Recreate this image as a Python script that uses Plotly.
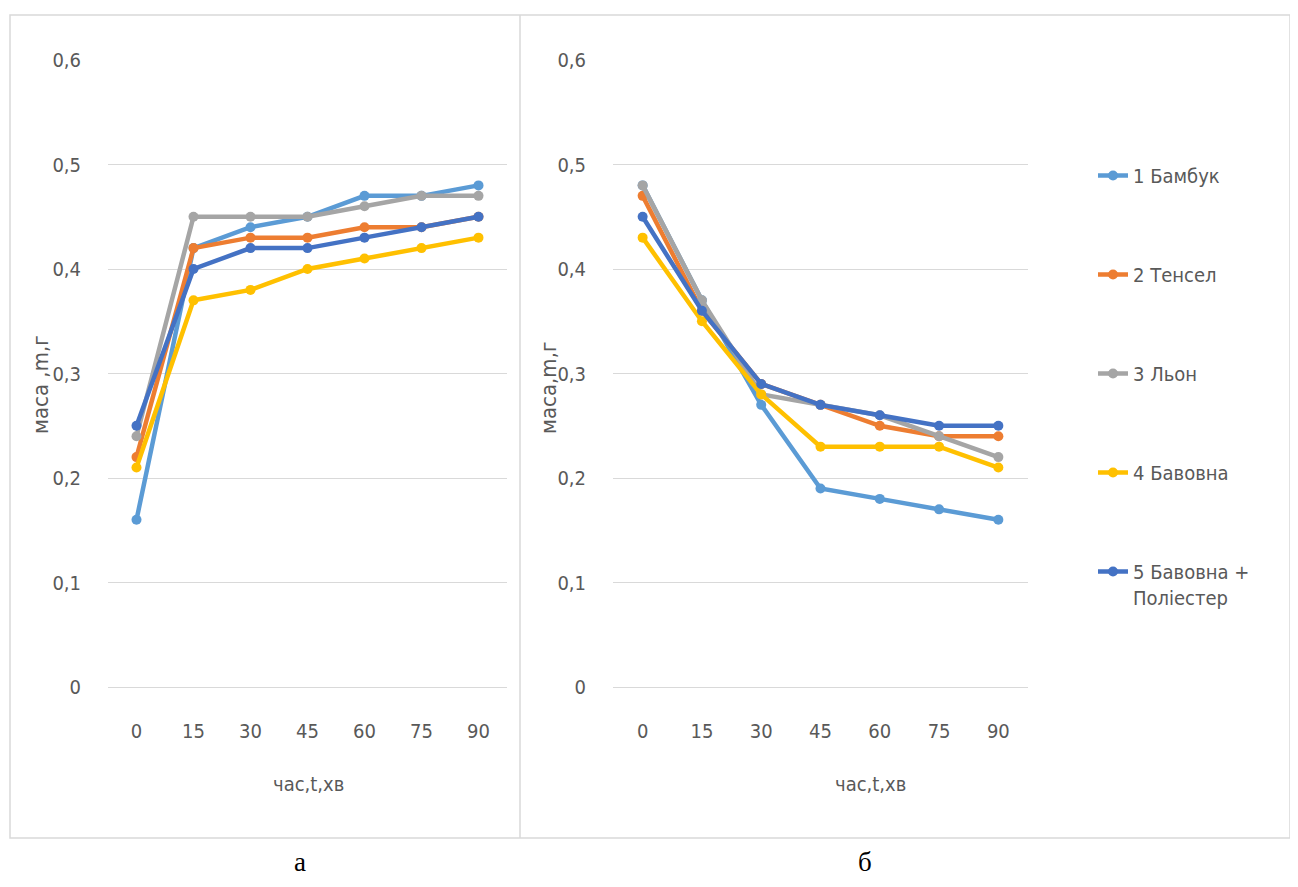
import plotly.graph_objects as go

W, H = 1298, 887

times = ["0", "15", "30", "45", "60", "75", "90"]
y_ticks = [0, 0.1, 0.2, 0.3, 0.4, 0.5, 0.6]
y_tick_labels = ["0", "0,1", "0,2", "0,3", "0,4", "0,5", "0,6"]

series_names = ["1 Бамбук", "2 Тенсел", "3 Льон", "4 Бавовна", "5 Бавовна +<br>Поліестер"]
colors = ["#5B9BD5", "#ED7D31", "#A5A5A5", "#FFC000", "#4472C4"]

# chart а (left): sorption
a_bamboo = [0.16, 0.42, 0.44, 0.45, 0.47, 0.47, 0.48]
a_tencel = [0.22, 0.42, 0.43, 0.43, 0.44, 0.44, 0.45]
a_linen = [0.24, 0.45, 0.45, 0.45, 0.46, 0.47, 0.47]
a_cotton = [0.21, 0.37, 0.38, 0.40, 0.41, 0.42, 0.43]
a_cotpoly = [0.25, 0.40, 0.42, 0.42, 0.43, 0.44, 0.45]

# chart б (right): drying
b_bamboo = [0.48, 0.37, 0.27, 0.19, 0.18, 0.17, 0.16]
b_tencel = [0.47, 0.36, 0.29, 0.27, 0.25, 0.24, 0.24]
b_linen = [0.48, 0.37, 0.28, 0.27, 0.26, 0.24, 0.22]
b_cotton = [0.43, 0.35, 0.28, 0.23, 0.23, 0.23, 0.21]
b_cotpoly = [0.45, 0.36, 0.29, 0.27, 0.26, 0.25, 0.25]

a_data = [a_bamboo, a_tencel, a_linen, a_cotton, a_cotpoly]
b_data = [b_bamboo, b_tencel, b_linen, b_cotton, b_cotpoly]

TXT = "#595959"
GRID = "#D9D9D9"
FONT = "DejaVu Sans Condensed, Liberation Sans Narrow, Liberation Sans, sans-serif"

OFF = 8  # page body margin


def px(x):
    return (x - OFF) / W


def py(y):
    return 1 - (y - OFF) / H


fig = go.Figure()

for i in range(5):
    fig.add_trace(go.Scatter(
        x=times, y=a_data[i], name=series_names[i], mode="lines+markers",
        line=dict(color=colors[i], width=4.5), marker=dict(color=colors[i], size=10),
        xaxis="x", yaxis="y", showlegend=False, legendgroup=str(i)))
for i in range(5):
    fig.add_trace(go.Scatter(
        x=times, y=b_data[i], name=series_names[i], mode="lines+markers",
        line=dict(color=colors[i], width=4.5), marker=dict(color=colors[i], size=10),
        xaxis="x2", yaxis="y2", showlegend=True, legendgroup=str(i)))

xcommon = dict(type="category", range=[-0.5, 6.5], showgrid=False, zeroline=False,
               showline=False, ticks="outside", ticklen=26, tickcolor="rgba(0,0,0,0)",
               tickfont=dict(family=FONT, size=20, color=TXT), fixedrange=True,
               automargin=False)
ycommon = dict(range=[0, 0.6], tickvals=y_ticks, ticktext=y_tick_labels,
               showgrid=True, gridcolor=GRID, gridwidth=1, zeroline=True,
               zerolinecolor=GRID, zerolinewidth=1, showline=False,
               ticks="outside", ticklen=22, tickcolor="rgba(0,0,0,0)",
               tickfont=dict(family=FONT, size=20, color=TXT), fixedrange=True,
               automargin=False)

fig.update_layout(
    width=W, height=H, margin=dict(l=0, r=0, t=0, b=0, autoexpand=False),
    autosize=False,
    paper_bgcolor="white", plot_bgcolor="white",
    xaxis=dict(domain=[px(108), px(507)], anchor="y", **xcommon),
    yaxis=dict(domain=[py(687), py(60)], anchor="x", **ycommon),
    xaxis2=dict(domain=[px(613), px(1028)], anchor="y2", **xcommon),
    yaxis2=dict(domain=[py(687), py(60)], anchor="x2", **ycommon),
    legend=dict(x=px(1093), y=py(156), xanchor="left", yanchor="top",
                font=dict(family=FONT, size=20, color=TXT),
                tracegroupgap=70, valign="top", bgcolor="rgba(0,0,0,0)",
                itemwidth=30),
    showlegend=True,
)

shapes = [
    dict(type="rect", xref="paper", yref="paper", x0=px(10), x1=px(1290), y0=py(838), y1=py(15),
         line=dict(color=GRID, width=1.5), fillcolor="rgba(0,0,0,0)", layer="below"),
    dict(type="line", xref="paper", yref="paper", x0=px(520), x1=px(520), y0=py(838), y1=py(15),
         line=dict(color=GRID, width=1.5), layer="below"),
]
fig.update_layout(shapes=shapes)

ann = [
    dict(text="маса ,m,г", x=px(40), y=py(385), textangle=-90, size=22),
    dict(text="маса,m,г", x=px(548), y=py(388), textangle=-90, size=22),
    dict(text="час,t,хв", x=px(308), y=py(784), size=20),
    dict(text="час,t,хв", x=px(870), y=py(784), size=20),
]
annotations = []
for a in ann:
    s = a.pop("size")
    annotations.append(dict(xref="paper", yref="paper", showarrow=False,
                            font=dict(family=FONT, size=s, color=TXT),
                            xanchor="center", yanchor="middle", **a))
for t, x in [("а", 300), ("б", 865)]:
    annotations.append(dict(text=t, xref="paper", yref="paper", x=px(x), y=py(862),
                            showarrow=False, xanchor="center", yanchor="middle",
                            font=dict(family="Liberation Serif, Times New Roman, serif",
                                      size=27, color="#000000")))
fig.update_layout(annotations=annotations)

fig.write_html("out.html")
